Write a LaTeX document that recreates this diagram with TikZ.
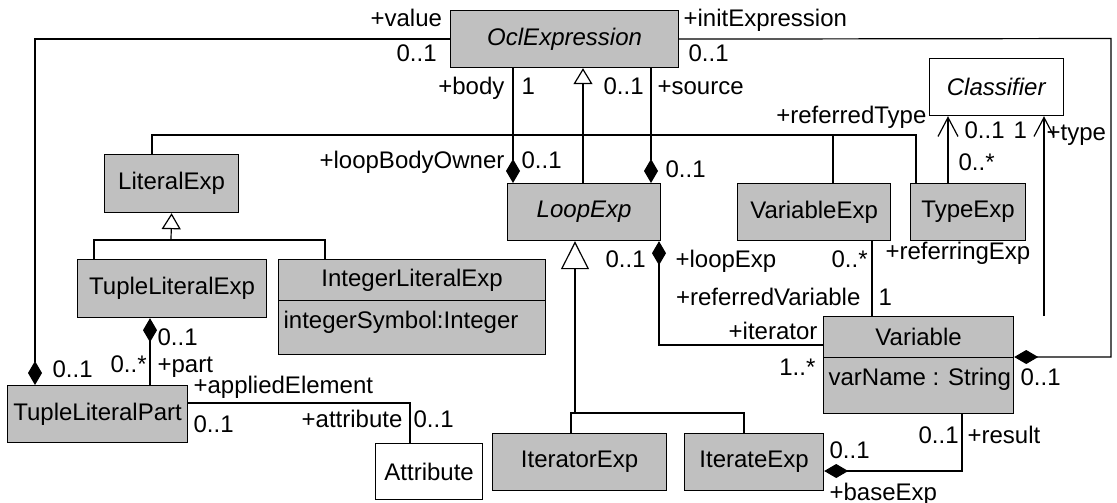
\documentclass[tikz,border=0pt]{standalone}
\usepackage{fontspec}
\setmainfont{Liberation Sans}
\usetikzlibrary{arrows.meta}
\definecolor{boxgray}{RGB}{192,192,192}
\begin{document}
\begin{tikzpicture}[x=1pt,y=-1pt, line width=1.2pt,
  font=\fontsize{24}{29}\selectfont,
  cls/.style={draw, fill=boxgray, inner sep=0pt, anchor=north west},
  wcls/.style={draw, fill=white, inner sep=0pt, anchor=north west},
  lbl/.style={anchor=base west, inner sep=0pt},
  lblr/.style={anchor=base east, inner sep=0pt},
  comp/.style={-{Diamond[length=24pt,width=14pt]}},
  nav/.style={-{Straight Barb[length=19pt,width=20pt]}},
  gensmall/.style={-{Triangle[open,length=16pt,width=19pt]}},
  genbig/.style={-{Triangle[open,length=28pt,width=28pt]}}
]
\useasboundingbox (0,0) rectangle (1117,503);

% classes
\node[cls, minimum width=228pt, minimum height=57pt] (ocl) at (450,10) {\textit{OclExpression}};
\node[wcls, minimum width=134pt, minimum height=57pt] (classifier) at (929,58) {\textit{Classifier}};
\node[cls, minimum width=134pt, minimum height=58pt] (literal) at (104,154) {LiteralExp};
\node[cls, minimum width=153pt, minimum height=57pt] (loop) at (507,183) {\textit{LoopExp}};
\node[cls, minimum width=153pt, minimum height=57pt] (varexp) at (737,183) {VariableExp};
\node[cls, minimum width=115pt, minimum height=57pt] (typeexp) at (910,183) {TypeExp};
\node[cls, minimum width=189pt, minimum height=58pt] (tuplelit) at (77,259) {TupleLiteralExp};
\node[cls, minimum width=267pt, minimum height=41pt] (intlit) at (278,259) {IntegerLiteralExp};
\node[cls, minimum width=267pt, minimum height=54pt] (intlitattr) at (278,300) {};
\node[lbl] (intsym) at (283,328) {integerSymbol:Integer};
\node[cls, minimum width=190pt, minimum height=41pt] (variable) at (823,316) {Variable};
\node[cls, minimum width=190pt, minimum height=56pt] (varattr) at (823,357) {};
\node[lbl] (varname) at (828,385) {varName : String};
\node[cls, minimum width=180pt, minimum height=57pt] (tuplepart) at (7,385) {TupleLiteralPart};
\node[wcls, minimum width=107pt, minimum height=56pt] (attribute) at (375,443) {Attribute};
\node[cls, minimum width=174pt, minimum height=57pt] (iterator) at (492,433) {IteratorExp};
\node[cls, minimum width=139pt, minimum height=57pt] (iterate) at (684,433) {IterateExp};

% helper corners
\coordinate (initcorner) at (1111,38.5);

% generalization to OclExpression
\draw[gensmall] (loop.north -| 583,0) -- (ocl.south -| 583,0);
\draw (literal.north -| 152,0) -- (152,135) -| (typeexp.north -| 916,0);
\draw (varexp.north -| 833,0) -- (833,135);

% generalization to LiteralExp
\draw (tuplelit.north -| 94,0) -- (94,240) -| (intlit.north -| 325,0);
\draw[gensmall] (171,240) -- (literal.south);

% generalization to LoopExp
\draw (iterator.north -| 571,0) -- (571,413) -| (iterate.north -| 744,0);
\draw[genbig] (575,413) -- (loop.south -| 575,0);

% associations
\draw[comp] (ocl.west) -| (tuplepart.north -| 35,0);
\draw[comp] (ocl.east) -- (initcorner) |- (varattr.north east);
\draw[comp] (ocl.south -| 513,0) -- (loop.north -| 513,0);
\draw[comp] (ocl.south -| 651,0) -- (loop.north -| 651,0);
\draw[comp] (variable.west |- 0,345) -| (loop.south -| 659,0);
\draw (varexp.south -| 872,0) -- (variable.north -| 872,0);
\draw[nav] (variable.north -| 1044,0) -- (classifier.south -| 1044,0);
\draw[nav] (typeexp.north -| 948,0) -- (classifier.south -| 948,0);
\draw[comp] (varattr.south -| 962,0) |- (iterate.east |- 0,471);
\draw[comp] (tuplepart.north -| 150,0) -- (tuplelit.south -| 150,0);
\draw (tuplepart.east |- 0,403) -| (attribute.north -| 410,0);

% labels
\node[lbl] at (370,27) {+value};
\node[lbl] at (396,62) {0..1};
\node[lbl] at (683,27) {+initExpression};
\node[lbl] at (688,62) {0..1};
\node[lblr] at (505,95) {+body};
\node[lbl] at (521,95) {1};
\node[lbl] at (603,95) {0..1};
\node[lbl] at (657,95) {+source};
\node[lblr] at (505,168) {+loopBodyOwner};
\node[lbl] at (521,168) {0..1};
\node[lbl] at (665,177) {0..1};
\node[lblr] at (927,124) {+referredType};
\node[lbl] at (964,139) {0..1};
\node[lbl] at (1013,139) {1};
\node[lbl] at (1046,140) {+type};
\node[lbl] at (958,170) {0..*};
\node[lbl] at (885,259) {+referringExp};
\node[lbl] at (605,267) {0..1};
\node[lbl] at (675,267) {+loopExp};
\node[lbl] at (831,267) {0..*};
\node[lblr] at (861,305) {+referredVariable};
\node[lbl] at (878,305) {1};
\node[lblr] at (818,339) {+iterator};
\node[lblr] at (816,375) {1..*};
\node[lbl] at (1020,385) {0..1};
\node[lbl] at (918,443) {0..1};
\node[lbl] at (967,443) {+result};
\node[lbl] at (829,458) {0..1};
\node[lbl] at (829,500) {+baseExp};
\node[lbl] at (157,345) {0..1};
\node[lbl] at (110,372) {0..*};
\node[lbl] at (157,372) {+part};
\node[lbl] at (52,377) {0..1};
\node[lbl] at (193,393) {+appliedElement};
\node[lbl] at (193,432) {0..1};
\node[lblr] at (403,427) {+attribute};
\node[lbl] at (413,427) {0..1};
\end{tikzpicture}
\end{document}
